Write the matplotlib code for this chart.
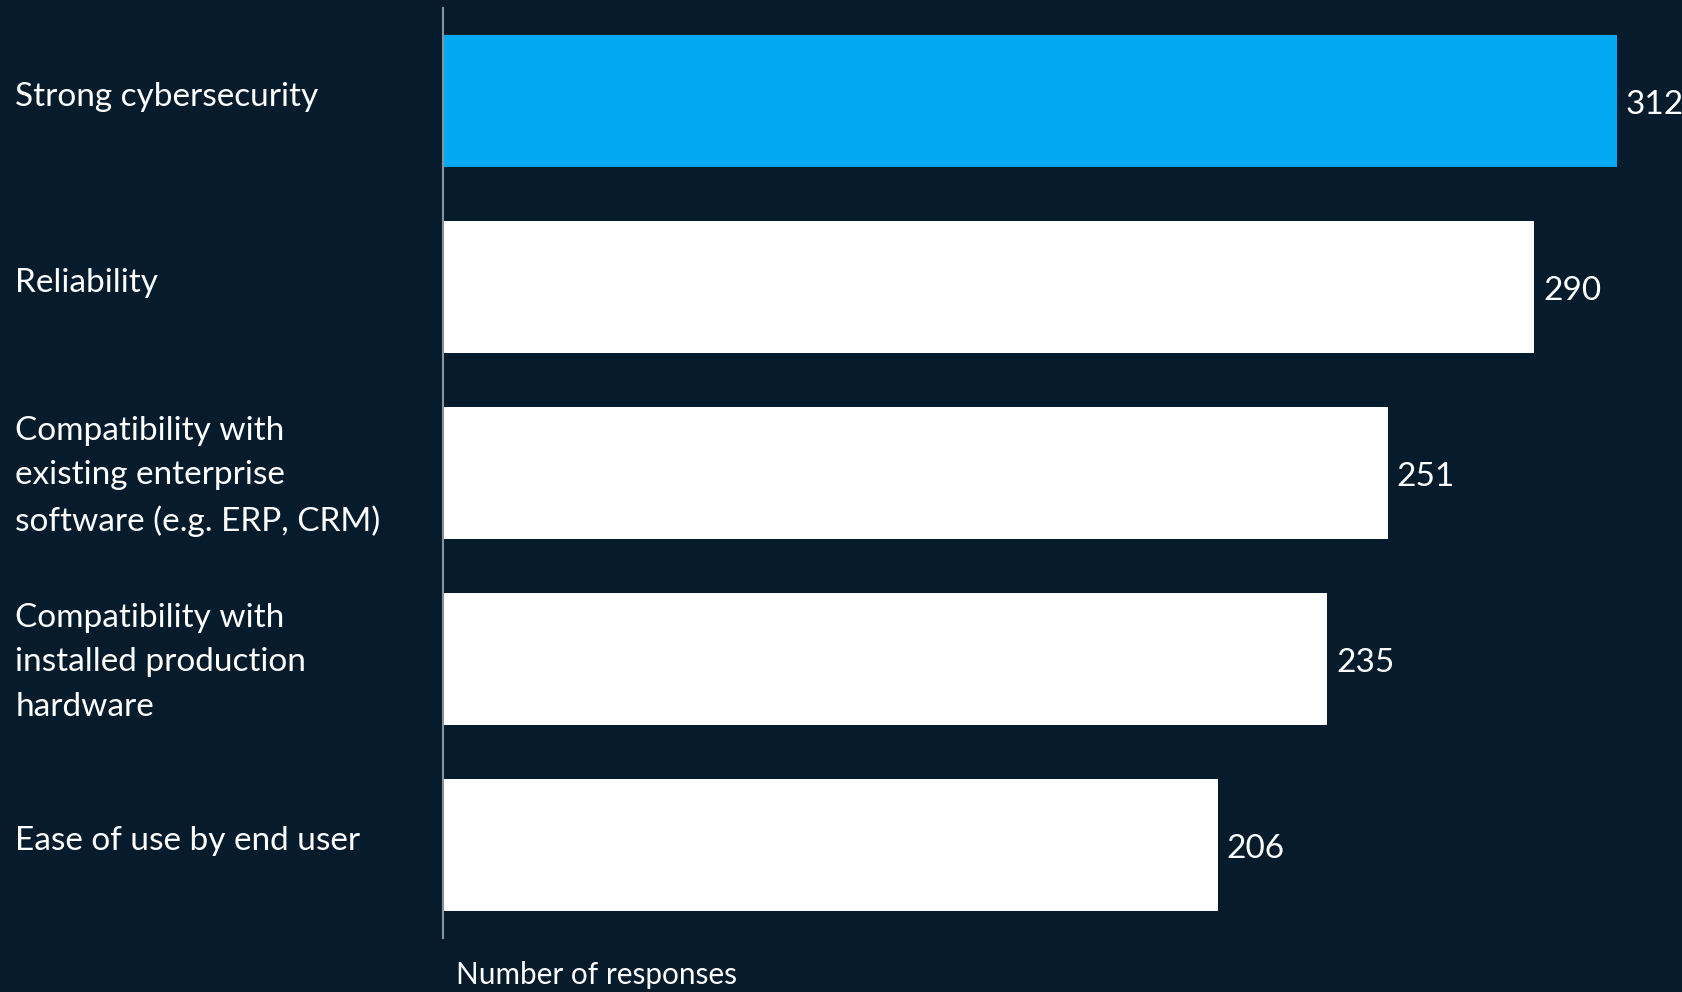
import matplotlib.pyplot as plt
import matplotlib.transforms as mtransforms

# survey answers, top to bottom
categories = [
    "Strong cybersecurity",
    "Reliability",
    "Compatibility with\nexisting enterprise\nsoftware (e.g. ERP, CRM)",
    "Compatibility with\ninstalled production\nhardware",
    "Ease of use by end user",
]
responses = [312, 290, 251, 235, 206]
bar_colors = ["#00A9F1", "white", "white", "white", "white"]

bg = "#061C2D"
plt.rcParams['font.family'] = ['Lato', 'DejaVu Sans']

fig = plt.figure(figsize=(16.83, 9.92), dpi=100, facecolor=bg)
ax = fig.add_axes([443 / 1683, 54 / 992, 1 - 443 / 1683, 930 / 992])
ax.set_facecolor(bg)

ypos = list(range(len(categories)))
ax.barh(ypos, responses, height=0.713, color=bar_colors, zorder=2)

down = mtransforms.ScaledTranslation(0, -3 / 72, fig.dpi_scale_trans)
for y, v in zip(ypos, responses):
    ax.text(v + 2.3, y, str(v), color="white", fontsize=24, va="center", ha="left",
            transform=ax.transData + down)

ax.set_xlim(0, 1240 / 3.763)
ax.set_ylim(4.5, -0.5)

ax.set_yticks(ypos)
ax.set_yticklabels(categories, ha="left", color="white", fontsize=24, linespacing=1.6)
ax.tick_params(axis="y", length=0, pad=308)
ax.set_xticks([])

# lift the category labels a little above the bar centres
up = mtransforms.ScaledTranslation(0, 5 / 72, fig.dpi_scale_trans)
for lbl in ax.get_yticklabels():
    lbl.set_transform(lbl.get_transform() + up)

for s in ["top", "right", "bottom"]:
    ax.spines[s].set_visible(False)
ax.spines["left"].set_color("#8A9399")
ax.spines["left"].set_linewidth(1.5)

fig.text(456 / 1683, 1 - 975 / 992, "Number of responses", color="white",
         fontsize=21.4, va="center", ha="left")

fig.savefig("out.png", dpi=100, facecolor=bg)
